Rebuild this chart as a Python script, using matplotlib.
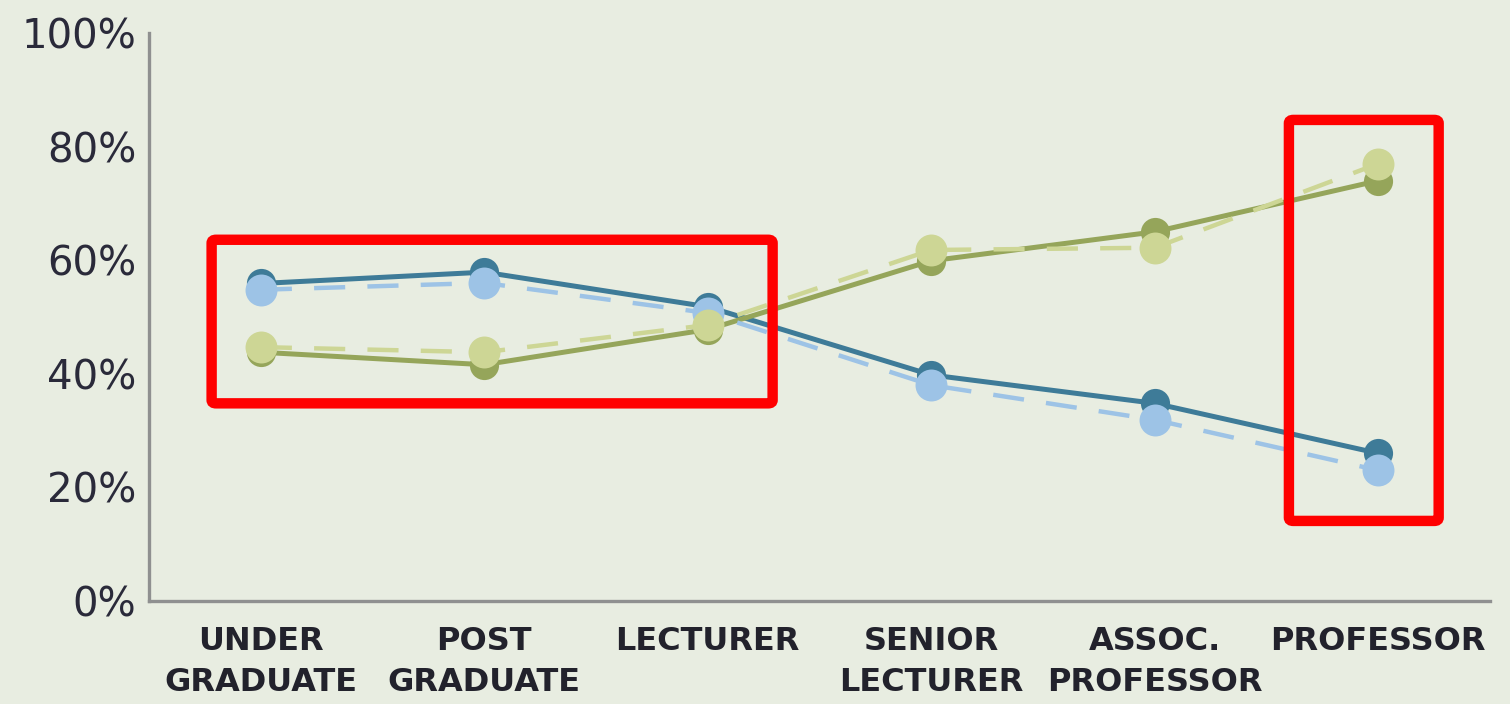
import matplotlib.pyplot as plt
from matplotlib.patches import FancyBboxPatch
from matplotlib.ticker import PercentFormatter

# Data
categories = ['UNDER\nGRADUATE', 'POST\nGRADUATE', 'LECTURER',
              'SENIOR\nLECTURER', 'ASSOC.\nPROFESSOR', 'PROFESSOR']
series_a_solid = [55.9, 57.9, 51.8, 39.8, 34.8, 26.0]    # dark teal
series_b_solid = [43.8, 41.6, 47.8, 59.9, 65.0, 74.0]    # olive
series_a_dashed = [54.8, 56.0, 50.7, 38.0, 31.9, 23.0]   # light blue
series_b_dashed = [44.7, 43.8, 48.6, 61.8, 62.2, 77.0]   # light green

bg = '#E8EDE1'
x = list(range(len(categories)))

fig = plt.figure(figsize=(15.1, 7.04), dpi=100, facecolor=bg)
ax = fig.add_axes([0.0987, 0.1463, 0.8881, 0.8068], facecolor=bg)

# =============
# Series lines
# =============
ax.plot(x, series_a_solid, color='#3E7B98', lw=3.6, marker='o', ms=21,
        markeredgewidth=0, zorder=3)
ax.plot(x, series_b_solid, color='#95A55A', lw=3.6, marker='o', ms=21,
        markeredgewidth=0, zorder=3)
ax.plot(x, series_a_dashed, color='#9DC3E6', lw=3.2, dashes=(7, 5), marker='o',
        ms=23, markeredgewidth=0, zorder=4)
ax.plot(x, series_b_dashed, color='#CDD695', lw=3.2, dashes=(7, 5), marker='o',
        ms=23, markeredgewidth=0, zorder=5)

# ==============
# Axes styling
# ==============
ax.set_xlim(-0.5, 5.5)
ax.set_ylim(0, 100)
ax.set_yticks([0, 20, 40, 60, 80, 100])
ax.yaxis.set_major_formatter(PercentFormatter(decimals=0))
ax.set_xticks(x)
ax.set_xticklabels(categories, fontsize=23, fontweight='bold',
                   color='#22222c', linespacing=1.42)
ax.tick_params(axis='y', length=0, pad=9, labelsize=29, labelcolor='#2a2a3a')
ax.tick_params(axis='x', length=0, pad=18)

for side in ['top', 'right']:
    ax.spines[side].set_visible(False)
for side in ['left', 'bottom']:
    ax.spines[side].set_color('#8F9090')
    ax.spines[side].set_linewidth(2.4)

# ======================
# Red highlight boxes
# ======================
boxes = [(-0.22, 34.8, 2.51, 28.8), (4.6, 14.1, 0.67, 70.6)]
for bx, by, bw, bh in boxes:
    ax.add_patch(FancyBboxPatch((bx, by), bw, bh,
                                boxstyle='round,pad=0,rounding_size=0.02',
                                fill=False, edgecolor='#FF0000', lw=7.5,
                                zorder=6, clip_on=False,
                                mutation_aspect=30))

fig.savefig('out.png', dpi=100, facecolor=bg)
